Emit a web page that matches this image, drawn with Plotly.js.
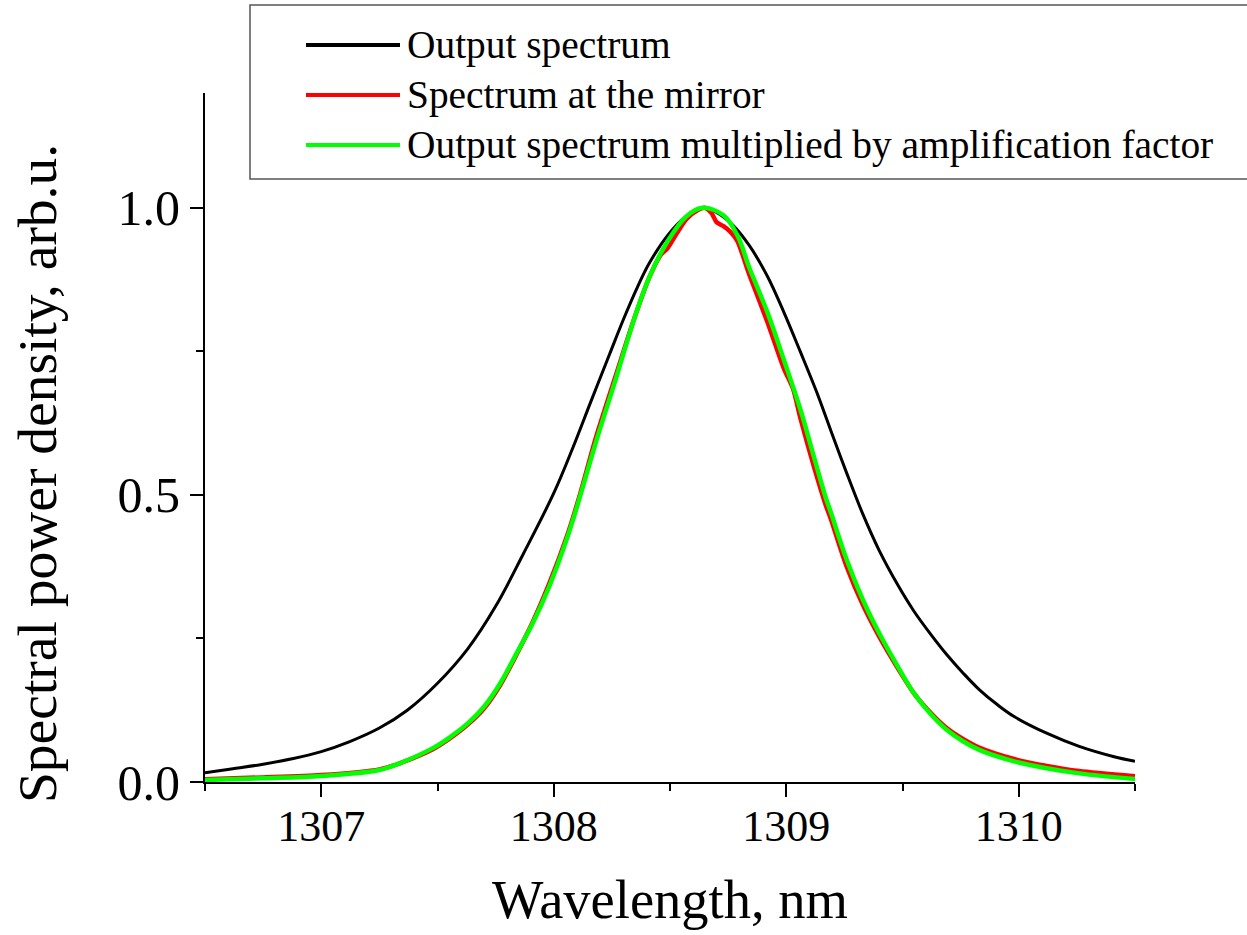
<!DOCTYPE html>
<html>
<head>
<meta charset="utf-8">
<script src="https://cdn.plot.ly/plotly-3.0.1.min.js"></script>
<style>html,body{margin:0;padding:0;background:#fff;}#chart{width:1247px;height:935px;}</style>
</head>
<body>
<div id="chart"></div>
<script>
// Output spectrum (black)
const wlOutput = [1306.50,1306.62,1306.75,1306.88,1307.00,1307.12,1307.25,1307.37,1307.50,1307.63,1307.75,1307.87,1308.00,1308.08,1308.16,1308.24,1308.30,1308.36,1308.41,1308.49,1308.56,1308.64,1308.70,1308.77,1308.84,1308.92,1308.99,1309.06,1309.13,1309.19,1309.26,1309.33,1309.40,1309.48,1309.55,1309.62,1309.69,1309.76,1309.83,1309.91,1309.98,1310.12,1310.26,1310.41,1310.50];
const outputSpectrum = [0.016,0.023,0.031,0.041,0.053,0.070,0.094,0.125,0.172,0.232,0.306,0.398,0.503,0.580,0.663,0.745,0.806,0.862,0.903,0.952,0.982,1.000,0.992,0.970,0.935,0.880,0.818,0.750,0.680,0.614,0.538,0.466,0.403,0.343,0.297,0.258,0.222,0.190,0.161,0.134,0.114,0.085,0.062,0.044,0.036];

// Spectrum at the mirror (red)
const wlMirror = [1306.50,1306.75,1307.00,1307.25,1307.34,1307.48,1307.55,1307.63,1307.70,1307.77,1307.84,1307.91,1307.98,1308.06,1308.11,1308.18,1308.27,1308.34,1308.41,1308.46,1308.49,1308.53,1308.57,1308.62,1308.65,1308.68,1308.70,1308.73,1308.76,1308.79,1308.84,1308.92,1308.99,1309.03,1309.06,1309.12,1309.17,1309.19,1309.26,1309.33,1309.40,1309.48,1309.55,1309.62,1309.69,1309.76,1309.83,1309.98,1310.12,1310.26,1310.50];
const mirrorSpectrum = [0.005,0.008,0.012,0.022,0.033,0.057,0.075,0.100,0.128,0.169,0.222,0.279,0.345,0.432,0.497,0.598,0.712,0.800,0.878,0.918,0.930,0.956,0.980,0.996,1.000,0.990,0.975,0.968,0.958,0.942,0.885,0.800,0.720,0.684,0.635,0.548,0.482,0.460,0.375,0.308,0.253,0.198,0.154,0.121,0.094,0.075,0.060,0.040,0.028,0.019,0.010];

// Output spectrum multiplied by amplification factor (green)
const wlAmplified = [1306.50,1306.75,1307.00,1307.25,1307.34,1307.48,1307.55,1307.63,1307.70,1307.77,1307.84,1307.91,1307.98,1308.06,1308.11,1308.18,1308.27,1308.34,1308.41,1308.49,1308.57,1308.64,1308.73,1308.79,1308.84,1308.92,1308.99,1309.06,1309.12,1309.17,1309.19,1309.26,1309.33,1309.40,1309.48,1309.55,1309.62,1309.69,1309.76,1309.83,1309.98,1310.12,1310.26,1310.50];
const amplifiedSpectrum = [0.0035,0.0065,0.0105,0.021,0.033,0.059,0.077,0.102,0.131,0.172,0.224,0.277,0.340,0.428,0.493,0.590,0.706,0.799,0.878,0.942,0.985,1.000,0.987,0.952,0.897,0.817,0.735,0.650,0.565,0.495,0.472,0.387,0.317,0.259,0.201,0.154,0.119,0.091,0.071,0.056,0.036,0.024,0.015,0.005];

const seriesNames = ["Output spectrum","Spectrum at the mirror","Output spectrum multiplied by amplification factor"];
const seriesColors = ["#000000","#ff0000","#00ff00"];
const xTickVals = [1307,1308,1309,1310];
const yTickVals = [0,0.5,1.0];
const xTitle = "Wavelength, nm";
const yTitle = "Spectral power density, arb.u.";

const FONT = "Liberation Serif, Times New Roman, serif";

const traces = [
  {x: wlOutput, y: outputSpectrum, name: seriesNames[0], mode: "lines", line: {color: seriesColors[0], width: 3, shape: "spline", smoothing: 1}},
  {x: wlMirror, y: mirrorSpectrum, name: seriesNames[1], mode: "lines", line: {color: seriesColors[1], width: 4.5, shape: "spline", smoothing: 0.7}},
  {x: wlAmplified, y: amplifiedSpectrum, name: seriesNames[2], mode: "lines", line: {color: seriesColors[2], width: 4.5, shape: "spline", smoothing: 1}}
];

// manual legend (long line samples, as in the reference)
const L = 205, R = 1135, T = 93, B = 782;
const px = v => (v - L) / (R - L);
const py = v => (B - v) / (B - T);
const rowsY = [45, 95, 145];
const shapes = [
  {type: "rect", xref: "paper", yref: "paper", x0: px(250), x1: px(1262), y0: py(179), y1: py(5), line: {color: "#555555", width: 1.5}, fillcolor: "rgba(0,0,0,0)"}
];
const annotations = [];
seriesNames.forEach((n, i) => {
  shapes.push({type: "line", xref: "paper", yref: "paper", x0: px(306), x1: px(400), y0: py(rowsY[i]), y1: py(rowsY[i]), line: {color: seriesColors[i], width: 4}});
  annotations.push({xref: "paper", yref: "paper", x: px(405), y: py(rowsY[i]), xanchor: "left", yanchor: "middle", text: n, showarrow: false, font: {family: FONT, size: 39.4, color: "#000"}});
});
// y-axis title (placed as in the reference, shifted below the plot centre)
annotations.push({xref: "paper", yref: "paper", x: px(37), y: py(474), xanchor: "center", yanchor: "middle", textangle: -90, text: yTitle, showarrow: false, font: {family: FONT, size: 55.5, color: "#000"}});

const layout = {
  width: 1247, height: 935,
  margin: {l: L, r: 1247 - R, t: T, b: 935 - B},
  paper_bgcolor: "#ffffff", plot_bgcolor: "#ffffff",
  showlegend: false,
  font: {family: FONT, color: "#000"},
  xaxis: {
    range: [1306.5, 1310.5], tickvals: xTickVals, ticktext: xTickVals.map(String),
    ticks: "outside", ticklen: 13, tickwidth: 2, tickcolor: "#000", ticklabelstandoff: -9,
    showline: true, linewidth: 2, linecolor: "#000", showgrid: false, zeroline: false,
    minor: {tickvals: [1306.5,1307.5,1308.5,1309.5,1310.5], ticks: "outside", ticklen: 7, tickwidth: 2, tickcolor: "#000", showgrid: false},
    tickfont: {family: FONT, size: 44, color: "#000"},
    title: {text: xTitle, font: {family: FONT, size: 54.5, color: "#000"}, standoff: 30},
    automargin: false
  },
  yaxis: {
    range: [0, 1.2], tickvals: yTickVals, ticktext: yTickVals.map(v => v.toFixed(1)),
    ticks: "outside", ticklen: 13, tickwidth: 2, tickcolor: "#000",
    showline: true, linewidth: 2, linecolor: "#000", showgrid: false, zeroline: false,
    minor: {tickvals: [0.25, 0.75], ticks: "outside", ticklen: 7, tickwidth: 2, tickcolor: "#000", showgrid: false},
    tickfont: {family: FONT, size: 50, color: "#000"},
    automargin: false
  },
  shapes: shapes,
  annotations: annotations
};

Plotly.newPlot("chart", traces, layout, {displayModeBar: false, staticPlot: true});
</script>
</body>
</html>
